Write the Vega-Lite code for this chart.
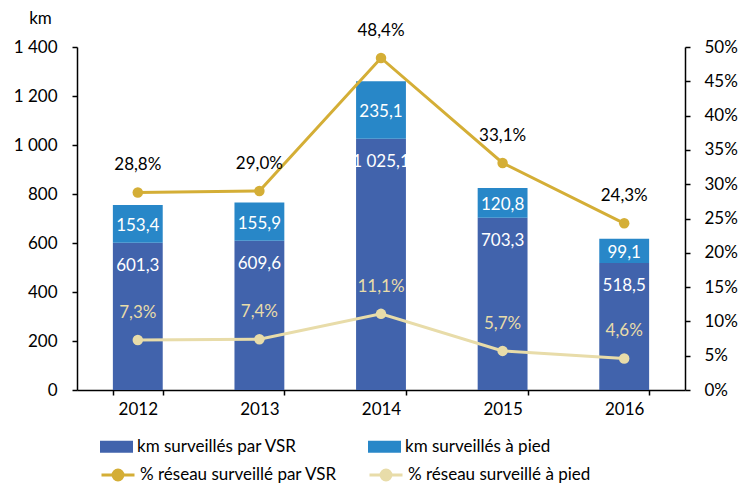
{
  "$schema": "https://vega.github.io/schema/vega-lite/v6.json",
  "width": 608,
  "height": 343,
  "autosize": {"type": "none"},
  "padding": {"left": 77, "top": 47, "right": 57, "bottom": 96},
  "config": {
    "font": "Lato",
    "locale": {"number": {"decimal": ",", "thousands": " ", "grouping": [3], "currency": ["", " €"]}},
    "view": {"stroke": null},
    "axis": {"labelFont": "Lato", "labelFontSize": 17, "labelColor": "#000", "domainColor": "#000", "tickColor": "#000", "domainWidth": 1.5, "tickWidth": 1.5, "grid": false, "tickSize": 5, "labelOverlap": false},
    "legend": {"padding": 0, "labelFont": "Lato", "labelFontSize": 17, "labelColor": "#000", "labelLimit": 400}
  },
  "datasets": {
    "bars": [
      {"year": "2012", "type": "km surveillés par VSR", "km": 601.3, "ord": 1},
      {"year": "2013", "type": "km surveillés par VSR", "km": 609.6, "ord": 1},
      {"year": "2014", "type": "km surveillés par VSR", "km": 1025.1, "ord": 1},
      {"year": "2015", "type": "km surveillés par VSR", "km": 703.3, "ord": 1},
      {"year": "2016", "type": "km surveillés par VSR", "km": 518.5, "ord": 1},
      {"year": "2012", "type": "km surveillés à pied", "km": 153.4, "ord": 2},
      {"year": "2013", "type": "km surveillés à pied", "km": 155.9, "ord": 2},
      {"year": "2014", "type": "km surveillés à pied", "km": 235.1, "ord": 2},
      {"year": "2015", "type": "km surveillés à pied", "km": 120.8, "ord": 2},
      {"year": "2016", "type": "km surveillés à pied", "km": 99.1, "ord": 2}
    ],
    "pct": [
      {"year": "2012", "serie": "% réseau surveillé par VSR", "pct": 0.288},
      {"year": "2013", "serie": "% réseau surveillé par VSR", "pct": 0.290},
      {"year": "2014", "serie": "% réseau surveillé par VSR", "pct": 0.484},
      {"year": "2015", "serie": "% réseau surveillé par VSR", "pct": 0.331},
      {"year": "2016", "serie": "% réseau surveillé par VSR", "pct": 0.243},
      {"year": "2012", "serie": "% réseau surveillé à pied", "pct": 0.073},
      {"year": "2013", "serie": "% réseau surveillé à pied", "pct": 0.074},
      {"year": "2014", "serie": "% réseau surveillé à pied", "pct": 0.111},
      {"year": "2015", "serie": "% réseau surveillé à pied", "pct": 0.057},
      {"year": "2016", "serie": "% réseau surveillé à pied", "pct": 0.046}
    ]
  },
  "encoding": {
    "x": {"field": "year", "type": "nominal", "scale": {"paddingInner": 0.59, "paddingOuter": 0.295},
      "axis": {"title": null, "labelAngle": 0, "tickBand": "extent", "labelPadding": 6}}
  },
  "layer": [
    {
      "data": {"name": "bars"},
      "layer": [
        {
          "mark": {"type": "bar"},
          "encoding": {
            "y": {"field": "km", "type": "quantitative", "stack": "zero", "scale": {"domain": [0, 1400]},
              "axis": {"values": [0, 200, 400, 600, 800, 1000, 1200, 1400], "format": ",d", "labelPadding": 15,
                "title": "km", "titleAngle": 0, "titleX": -37, "titleY": -29, "titleAlign": "center", "titleBaseline": "middle",
                "titleFont": "Lato", "titleFontSize": 17, "titleFontWeight": "normal", "titleColor": "#000"}},
            "order": {"field": "ord", "type": "quantitative"},
            "fill": {"field": "type", "type": "nominal",
              "scale": {"domain": ["km surveillés par VSR", "km surveillés à pied"], "range": ["#4163AC", "#2887C8"]},
              "legend": {"title": null, "orient": "none", "legendX": 23, "legendY": 383, "direction": "horizontal", "columns": 2,
                "columnPadding": 71, "symbolType": "M-1,-0.36H1V0.36H-1Z", "symbolSize": 1089, "symbolStrokeWidth": 0, "labelOffset": 4}}
          }
        },
        {
          "transform": [
            {"stack": "km", "groupby": ["year"], "sort": [{"field": "ord", "order": "ascending"}], "as": ["y0", "y1"]},
            {"filter": "datum.ord === 2"},
            {"fold": ["y0", "y1"], "as": ["edge", "pos"]},
            {"aggregate": [{"op": "mean", "field": "pos", "as": "mid"}, {"op": "max", "field": "km", "as": "lab"}], "groupby": ["year"]}
          ],
          "mark": {"type": "text", "baseline": "middle", "fontSize": 17, "font": "Lato", "color": "#fff", "dy": 2},
          "encoding": {
            "y": {"field": "mid", "type": "quantitative"},
            "text": {"field": "lab", "type": "quantitative", "format": ",.1f"}
          }
        },
        {
          "transform": [{"filter": "datum.ord === 1"}],
          "mark": {"type": "text", "baseline": "middle", "fontSize": 17, "font": "Lato", "color": "#fff", "dy": 23},
          "encoding": {
            "y": {"field": "km", "type": "quantitative"},
            "text": {"field": "km", "type": "quantitative", "format": ",.1f"}
          }
        }
      ]
    },
    {
      "data": {"name": "pct"},
      "encoding": {
        "y": {"field": "pct", "type": "quantitative", "scale": {"domain": [0, 0.5]},
          "axis": {"orient": "right", "values": [0, 0.05, 0.1, 0.15, 0.2, 0.25, 0.3, 0.35, 0.4, 0.45, 0.5], "format": ".0%", "labelPadding": 14, "labelOverlap": false, "title": null}}
      },
      "layer": [
        {
          "mark": {"type": "line", "strokeWidth": 3},
          "encoding": {
            "stroke": {"field": "serie", "type": "nominal",
              "scale": {"domain": ["% réseau surveillé par VSR", "% réseau surveillé à pied"], "range": ["#D4AE36", "#E8DCA9"]},
              "legend": {"title": null, "orient": "none", "legendX": 23, "legendY": 410, "direction": "horizontal", "columns": 2,
                "columnPadding": 25, "symbolType": "M-1,0H1M0.3,0A0.3,0.3 0 1,1 -0.3,0A0.3,0.3 0 1,1 0.3,0", "symbolSize": 1089,
                "symbolStrokeWidth": 3, "labelOffset": 4,
                "encode": {"symbols": {"update": {"fill": {"scale": "stroke", "field": "value"}}}}}}
          }
        },
        {
          "mark": {"type": "point", "filled": true, "size": 110, "opacity": 1},
          "encoding": {
            "color": {"field": "serie", "type": "nominal",
              "scale": {"domain": ["% réseau surveillé par VSR", "% réseau surveillé à pied"], "range": ["#D4AE36", "#E8DCA9"]},
              "legend": null}
          }
        },
        {
          "mark": {"type": "text", "baseline": "middle", "fontSize": 17, "font": "Lato", "dy": -27},
          "encoding": {
            "text": {"field": "pct", "type": "quantitative", "format": ".1%"},
            "color": {"condition": {"test": "datum.serie === '% réseau surveillé par VSR'", "value": "#000"}, "value": "#E8DCA9"}
          }
        }
      ]
    }
  ],
  "resolve": {"scale": {"y": "independent"}}
}
